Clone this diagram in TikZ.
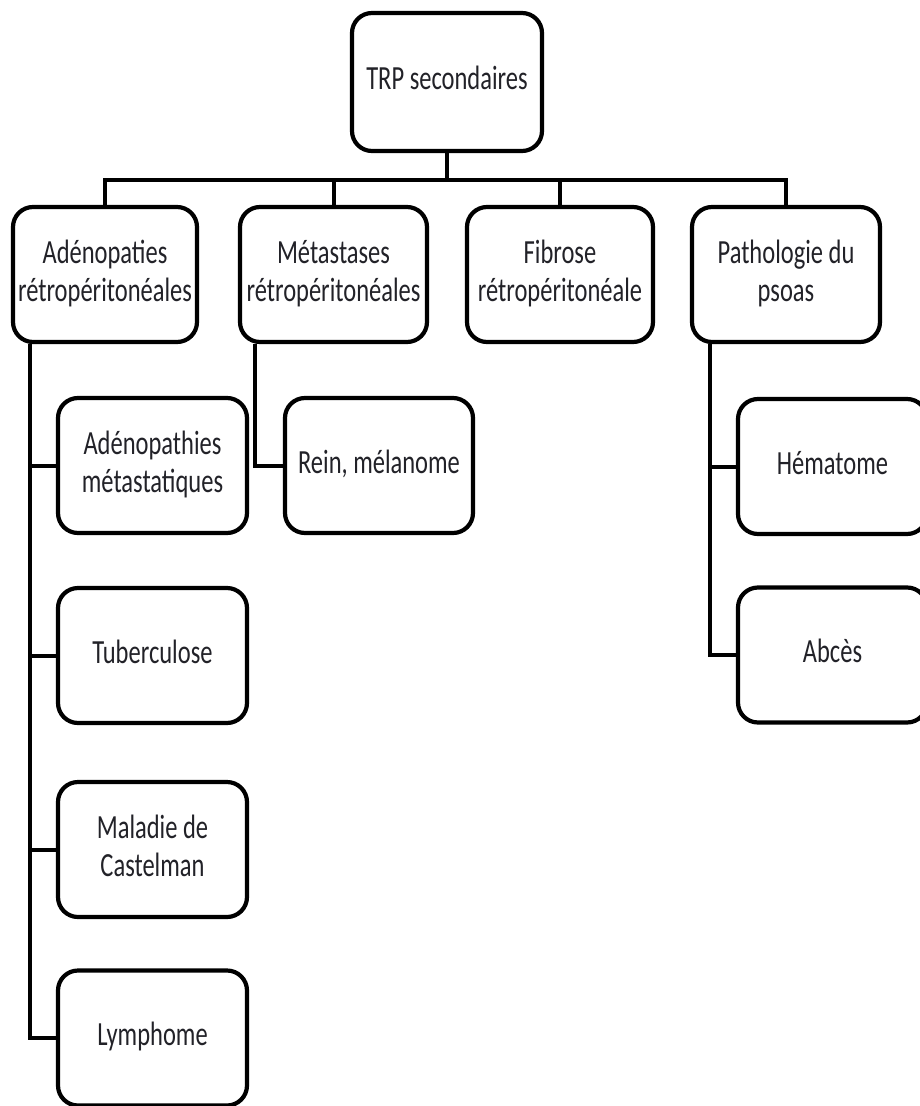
\documentclass[tikz,border=0pt]{standalone}
\usepackage{graphicx}
\usepackage{fontspec}
\setmainfont{Carlito}
\usetikzlibrary{calc}
\definecolor{txt}{RGB}{34,34,40}
\newcommand{\tx}[1]{\scalebox{1}[1.38]{\begin{tabular}{@{}c@{}}#1\end{tabular}}}
\tikzset{
  box/.style={draw=black, line width=4.2pt, rounded corners=20pt, fill=white,
    inner sep=0pt, text=txt, font=\fontsize{24.5}{27.5}\selectfont,
    minimum height=135pt},
  conn/.style={draw=black, line width=4pt},
}
\begin{document}
\begin{tikzpicture}[x=1pt,y=-1pt]
\useasboundingbox (0,0) rectangle (920,1106);
% root
\node[box, minimum width=190pt, minimum height=138pt] (root) at (447,82) {\tx{TRP secondaires}};
% level 1
\node[box, minimum width=184pt] (b1) at (105,274.5) {\tx{Adénopaties\\rétropéritonéales}};
\node[box, minimum width=187pt] (b2) at (333.5,274.5) {\tx{Métastases\\rétropéritonéales}};
\node[box, minimum width=186pt] (b3) at (560,274.5) {\tx{Fibrose\\rétropéritonéale}};
\node[box, minimum width=188pt] (b4) at (786,274.5) {\tx{Pathologie du\\psoas}};
% children of b1
\node[box, minimum width=189pt] (c11) at (152.5,465.5) {\tx{Adénopathies\\métastatiques}};
\node[box, minimum width=189pt] (c12) at (152.5,655.5) {\tx{Tuberculose}};
\node[box, minimum width=189pt] (c13) at (152.5,849.5) {\tx{Maladie de\\Castelman}};
\node[box, minimum width=189pt] (c14) at (152.5,1038) {\tx{Lymphome}};
% child of b2
\node[box, minimum width=188pt] (c21) at (379,465.5) {\tx{Rein, mélanome}};
% children of b4
\node[box, minimum width=189pt] (c41) at (832.5,466.5) {\tx{Hématome}};
\node[box, minimum width=189pt] (c42) at (832.5,655) {\tx{Abcès}};
% bus
\coordinate (bus) at ($(root.south)+(0,27)$);
\draw[conn] (root.south) -- (bus);
\draw[conn] (b1.north) |- (bus);
\draw[conn] (b2.north) |- (bus);
\draw[conn] (b3.north) |- (bus);
\draw[conn] (b4.north) |- (bus);
% spines
\coordinate (s1) at ($(b1.south west)+(19,0)$);
\draw[conn] (s1) |- (c14.west);
\draw[conn] (s1 |- c11.west) -- (c11.west);
\draw[conn] (s1 |- c12.west) -- (c12.west);
\draw[conn] (s1 |- c13.west) -- (c13.west);
\coordinate (s2) at ($(b2.south west)+(17,0)$);
\draw[conn] (s2) |- (c21.west);
\coordinate (s4) at ($(b4.south west)+(20,0)$);
\draw[conn] (s4) |- (c42.west);
\draw[conn] (s4 |- c41.west) -- (c41.west);
\end{tikzpicture}
\end{document}
